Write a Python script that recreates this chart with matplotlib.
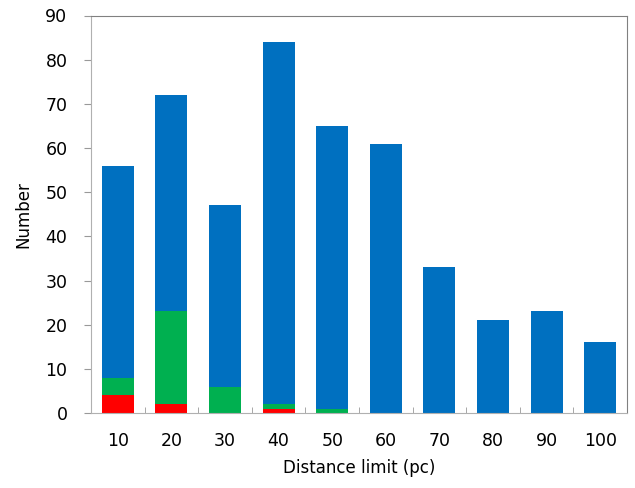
import numpy as np
import matplotlib.pyplot as plt

# distance limits (pc)
distances = ['10', '20', '30', '40', '50', '60', '70', '80', '90', '100']
# stacked counts per distance bin
red_counts = [4, 2, 0, 1, 0, 0, 0, 0, 0, 0]
green_counts = [4, 21, 6, 1, 1, 0, 0, 0, 0, 0]
blue_counts = [48, 49, 41, 82, 64, 61, 33, 21, 23, 16]

fig = plt.figure(figsize=(6.35, 4.88), dpi=100)
ax = fig.add_axes([91 / 635, 1 - 413 / 488, 536 / 635, 397.5 / 488])

x = np.arange(len(distances))
red = np.array(red_counts)
green = np.array(green_counts)
blue = np.array(blue_counts)

ax.bar(x, red, width=0.6, color='#FF0000')
ax.bar(x, green, width=0.6, bottom=red, color='#00B050')
ax.bar(x, blue, width=0.6, bottom=red + green, color='#0070C0')

ax.set_xlim(-0.5, len(distances) - 0.5)
ax.set_ylim(0, 90)
ax.set_yticks(range(0, 91, 10))

# category labels centred, tick marks between categories
ax.set_xticks(x)
ax.set_xticklabels(distances, fontsize=12.5)
ax.tick_params(axis='x', length=0, pad=14)
ax.set_xticks(np.arange(0.5, len(distances) - 0.5), minor=True)
ax.tick_params(axis='x', which='minor', direction='in', length=4, color='#999999')
ax.tick_params(axis='y', direction='out', length=5, color='#999999', labelsize=12.5, pad=12)

for side in ['left', 'bottom']:
    ax.spines[side].set_color('#b0b0b0')
for side in ['top', 'right']:
    ax.spines[side].set_color('#808080')

ax.set_xlabel('Distance limit (pc)', fontsize=12, labelpad=6)
ax.set_ylabel('Number', fontsize=12, labelpad=9)

fig.savefig('out.png', dpi=100)
